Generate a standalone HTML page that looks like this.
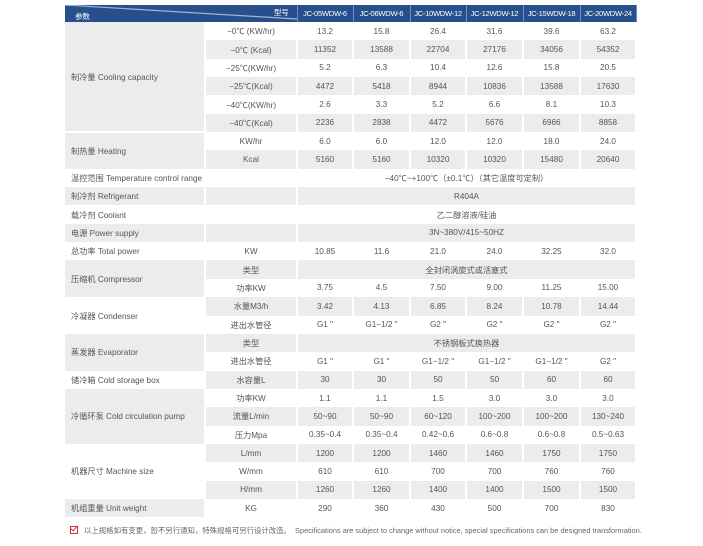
<!DOCTYPE html>
<html><head><meta charset="utf-8"><style>
html,body{margin:0;padding:0;background:#fff;width:703px;height:546px;overflow:hidden}
body{font-family:"Liberation Sans","Noto Sans CJK SC",sans-serif;color:#555}
table{position:absolute;left:65px;top:5px;border-collapse:collapse;table-layout:fixed;font-size:8.2px}
td{padding:0;text-align:center;border-right:2px solid #fff;white-space:nowrap;overflow:hidden}
tr{height:18.35px}
tr.h{height:17px;background:#264f8c;color:#fff;font-size:7.6px;letter-spacing:-0.3px}
tr.h td{border-right:1px solid #6d8fbf}
.g{background:#ececec}
.w{background:#fff}
td.p{text-align:left;padding-left:6px}
.note{position:absolute;left:70px;top:525px;font-size:7.4px;color:#666;white-space:nowrap}
.chk{display:inline-block;width:6px;height:6px;border:1px solid #c33;margin-right:6px;position:relative;top:1px}
.chk:after{content:"";position:absolute;left:1px;top:-3px;width:3px;height:6px;border-right:1.3px solid #c33;border-bottom:1.3px solid #c33;transform:rotate(40deg)}
</style></head><body>
<table>
<colgroup><col style="width:140px"><col style="width:92px"><col style="width:56px"><col style="width:57px"><col style="width:56px"><col style="width:57px"><col style="width:57px"><col style="width:56px"></colgroup>
<tr class="h"><td colspan="2" style="position:relative;text-align:left">
<svg width="232" height="17" style="position:absolute;left:0;top:0"><line x1="0" y1="0" x2="232" y2="14" stroke="#9fb6d8" stroke-width="1.2"/></svg>
<span style="position:absolute;left:10px;top:6px">参数</span><span style="position:absolute;right:8px;top:2px">型号</span></td>
<td>JC-05WDW-6</td><td>JC-06WDW-6</td><td>JC-10WDW-12</td><td>JC-12WDW-12</td><td>JC-15WDW-18</td><td>JC-20WDW-24</td></tr>
<tr class="w"><td class="p g" rowspan="6">制冷量 Cooling capacity</td><td>−0℃ (KW/hr)</td><td>13.2</td><td>15.8</td><td>26.4</td><td>31.6</td><td>39.6</td><td>63.2</td></tr>
<tr class="g"><td>−0℃ (Kcal)</td><td>11352</td><td>13588</td><td>22704</td><td>27176</td><td>34056</td><td>54352</td></tr>
<tr class="w"><td>−25℃(KW/hr)</td><td>5.2</td><td>6.3</td><td>10.4</td><td>12.6</td><td>15.8</td><td>20.5</td></tr>
<tr class="g"><td>−25℃(Kcal)</td><td>4472</td><td>5418</td><td>8944</td><td>10836</td><td>13588</td><td>17630</td></tr>
<tr class="w"><td>−40℃(KW/hr)</td><td>2.6</td><td>3.3</td><td>5.2</td><td>6.6</td><td>8.1</td><td>10.3</td></tr>
<tr class="g"><td>−40℃(Kcal)</td><td>2236</td><td>2838</td><td>4472</td><td>5676</td><td>6966</td><td>8858</td></tr>
<tr class="w"><td class="p g" rowspan="2" style="border-top:2px solid #fff">制热量 Heating</td><td>KW/hr</td><td>6.0</td><td>6.0</td><td>12.0</td><td>12.0</td><td>18.0</td><td>24.0</td></tr>
<tr class="g"><td>Kcal</td><td>5160</td><td>5160</td><td>10320</td><td>10320</td><td>15480</td><td>20640</td></tr>
<tr class="w"><td class="p w" colspan="2">温控范围 Temperature control range</td><td colspan="6">−40℃~+100℃（±0.1℃）（其它温度可定制）</td></tr>
<tr class="g"><td class="p g">制冷剂 Refrigerant</td><td></td><td colspan="6">R404A</td></tr>
<tr class="w"><td class="p w">载冷剂 Coolant</td><td></td><td colspan="6">乙二醇溶液/硅油</td></tr>
<tr class="g"><td class="p g">电源 Power supply</td><td></td><td colspan="6">3N~380V/415~50HZ</td></tr>
<tr class="w"><td class="p w">总功率 Total power</td><td>KW</td><td>10.85</td><td>11.6</td><td>21.0</td><td>24.0</td><td>32.25</td><td>32.0</td></tr>
<tr class="g"><td class="p g" rowspan="2">压缩机 Compressor</td><td>类型</td><td colspan="6">全封闭涡旋式或活塞式</td></tr>
<tr class="w"><td>功率KW</td><td>3.75</td><td>4.5</td><td>7.50</td><td>9.00</td><td>11.25</td><td>15.00</td></tr>
<tr class="g"><td class="p w" rowspan="2">冷凝器 Condenser</td><td>水量M3/h</td><td>3.42</td><td>4.13</td><td>6.85</td><td>8.24</td><td>10.78</td><td>14.44</td></tr>
<tr class="w"><td>进出水管径</td><td>G1 "</td><td>G1−1/2 "</td><td>G2 "</td><td>G2 "</td><td>G2 "</td><td>G2 "</td></tr>
<tr class="g"><td class="p g" rowspan="2">蒸发器 Evaporator</td><td>类型</td><td colspan="6">不锈钢板式换热器</td></tr>
<tr class="w"><td>进出水管径</td><td>G1 "</td><td>G1 "</td><td>G1−1/2 "</td><td>G1−1/2 "</td><td>G1−1/2 "</td><td>G2 "</td></tr>
<tr class="g"><td class="p w">储冷箱 Cold storage box</td><td>水容量L</td><td>30</td><td>30</td><td>50</td><td>50</td><td>60</td><td>60</td></tr>
<tr class="w"><td class="p g" rowspan="3">冷循环泵 Cold circulation pump</td><td>功率KW</td><td>1.1</td><td>1.1</td><td>1.5</td><td>3.0</td><td>3.0</td><td>3.0</td></tr>
<tr class="g"><td>流量L/min</td><td>50~90</td><td>50~90</td><td>60~120</td><td>100~200</td><td>100~200</td><td>130~240</td></tr>
<tr class="w"><td>压力Mpa</td><td>0.35~0.4</td><td>0.35~0.4</td><td>0.42~0.6</td><td>0.6~0.8</td><td>0.6~0.8</td><td>0.5~0.63</td></tr>
<tr class="g"><td class="p w" rowspan="3">机器尺寸 Machine size</td><td>L/mm</td><td>1200</td><td>1200</td><td>1460</td><td>1460</td><td>1750</td><td>1750</td></tr>
<tr class="w"><td>W/mm</td><td>610</td><td>610</td><td>700</td><td>700</td><td>760</td><td>760</td></tr>
<tr class="g"><td>H/mm</td><td>1260</td><td>1260</td><td>1400</td><td>1400</td><td>1500</td><td>1500</td></tr>
<tr class="w"><td class="p g">机组重量 Unit weight</td><td>KG</td><td>290</td><td>360</td><td>430</td><td>500</td><td>700</td><td>830</td></tr>
</table>
<div class="note"><span class="chk"></span>以上规格如有变更，恕不另行通知，特殊规格可另行设计改造。 &nbsp;Specifications are subject to change without notice, special specifications can be designed transformation.</div>
</body></html>
